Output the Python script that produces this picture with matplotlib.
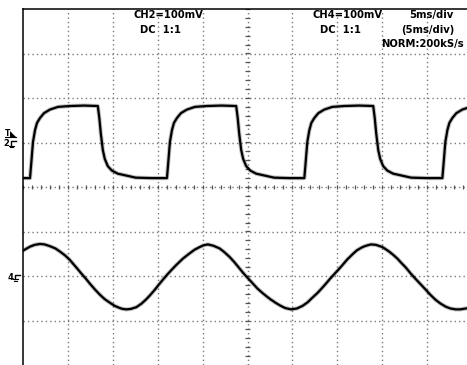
import matplotlib

matplotlib.use("Agg")
import matplotlib.pyplot as plt
import numpy as np
from matplotlib.lines import Line2D
from matplotlib.patches import Polygon
from matplotlib.transforms import Affine2D

W, H = 467, 365

# scope settings
MS_PER_DIV = 5
MV_PER_DIV = 100
CH2_GROUND = 1.0   # divisions above centre
CH4_GROUND = -2.0

# CH2: filtered square wave (ms, mV)
ch2_t = [0.0, 0.78, 0.95, 1.11, 1.34, 1.56, 1.89, 2.34, 3.00, 3.89, 5.22, 6.8, 8.33,
         8.50, 8.66, 8.89, 9.11, 9.44, 9.89, 10.55, 11.44, 12.55, 14.3, 16.03,
         16.20, 16.36, 16.59, 16.81, 17.14, 17.59, 18.25, 19.14, 20.47, 22.1, 23.74,
         23.91, 24.07, 24.30, 24.52, 24.85, 25.30, 25.96, 26.85, 27.96, 29.6, 31.33,
         31.50, 31.66, 31.89, 32.11, 32.44, 32.89, 33.55, 34.44, 35.77, 37.4, 39.00,
         39.17, 39.33, 39.56, 39.78, 40.11, 40.56, 41.22, 42.11, 43.22, 45.0, 46.70,
         46.87, 47.03, 47.26, 47.48, 47.81, 48.26, 48.92, 49.81, 50.0]
ch2_mv = [-80, -80, -39, 1, 28, 44, 55, 66, 74, 80, 82, 83, 82,
          55, 21, -17, -37, -53, -63, -70, -74, -79, -80, -80,
          -39, 1, 28, 44, 55, 66, 74, 80, 82, 83, 82,
          55, 21, -17, -37, -53, -63, -70, -74, -79, -80, -80,
          -39, 1, 28, 44, 55, 66, 74, 80, 82, 83, 82,
          55, 21, -17, -37, -53, -63, -70, -74, -79, -80, -80,
          -39, 1, 28, 44, 55, 66, 74, 80, 81]

# CH4: sine-like wave (ms, mV)
ch4_t = [0.0, 0.78, 1.3, 1.89, 2.4, 3.0, 3.6, 4.11, 4.7, 5.22, 5.9, 6.52, 7.0,
         7.44, 8.0, 8.56, 9.1, 9.67, 10.2, 10.78, 11.1, 11.52, 12.0, 12.63, 13.2,
         13.74, 14.2, 14.67, 15.1, 15.59, 16.1, 16.6, 17.08, 17.8, 18.56, 19.1,
         19.67, 20.1, 20.59, 21.2, 21.89, 22.4, 23.0, 23.5, 24.11, 24.6, 25.1,
         25.6, 26.1, 26.6, 27.08, 27.6, 28.19, 28.7, 29.2, 29.86, 30.5, 31.14,
         31.7, 32.26, 32.8, 33.3, 33.74, 34.2, 34.7, 35.2, 35.59, 36.1, 36.7,
         37.2, 37.81, 38.2, 38.74, 39.3, 40.03, 40.7, 41.2, 41.7, 42.1, 42.63,
         43.2, 43.74, 44.3, 44.86, 45.4, 45.97, 46.5, 47.08, 47.6, 48.19, 48.7,
         49.3, 50.0]
ch4_mv = [57, 66, 70, 72, 71, 67, 62, 55, 46, 36, 20, 5, -6,
          -17, -30, -42, -52, -60, -67, -72, -74, -75, -74, -70, -62,
          -52, -42, -31, -20, -8, 4, 15, 25, 39, 51, 59,
          65, 69, 71, 68, 62, 54, 43, 32, 17, 5, -6,
          -17, -28, -37, -45, -53, -61, -67, -72, -75, -73, -67,
          -59, -48, -38, -27, -17, -6, 5, 16, 25, 37, 49,
          58, 65, 68, 71, 70, 65, 56, 48, 39, 30, 19,
          5, -7, -19, -31, -43, -54, -62, -69, -73, -75, -75,
          -73, -71]

header = [
    ("CH2=100mV", 168.5, 15),
    ("DC  1:1", 160, 30),
    ("CH4=100mV", 347.5, 15),
    ("DC  1:1", 340, 30),
    ("5ms/div", 431.5, 15),
    ("(5ms/div)", 428, 30),
    ("NORM:200kS/s", 422.5, 44),
]

GRID = "#7a7a7a"
DOTS = (0, (1, 2.2))

fig = plt.figure(figsize=(W / 100, H / 100), dpi=100)
ax = fig.add_axes([23 / W, 0, 449 / W, 356 / H])
ax.set_xlim(0, 10 * MS_PER_DIV)
ax.set_ylim(-4, 4)
ax.set_xticks([])
ax.set_yticks([])
for side in ("right", "bottom"):
    ax.spines[side].set_visible(False)
for side in ("left", "top"):
    ax.spines[side].set_linewidth(1.1)
    ax.spines[side].set_color("black")

# graticule
xs = [k * MS_PER_DIV for k in range(1, 10) if k != 5]
ys = [k for k in range(-3, 4) if k != 0]
ax.vlines(xs, -4, 4, colors=GRID, linestyles=DOTS, lw=1.0)
ax.hlines(ys, 0, 50, colors=GRID, linestyles=DOTS, lw=1.0)
ax.axhline(0, color=GRID, ls=DOTS, lw=1.0)
ax.axvline(5 * MS_PER_DIV, color=GRID, ls=DOTS, lw=1.0)
ax.vlines(np.arange(0, 50.01, MS_PER_DIV / 5), -0.045, 0.045, colors="#555555", lw=0.9)
ax.hlines(np.arange(-4, 4.01, 0.2), 25 - 0.28, 25 + 0.28, colors="#555555", lw=0.9)

# traces
for t, mv, gnd in ((ch2_t, ch2_mv, CH2_GROUND), (ch4_t, ch4_mv, CH4_GROUND)):
    y = gnd + np.asarray(mv) / MV_PER_DIV
    ax.plot(t, y, color="black", lw=3.0, alpha=0.25, solid_joinstyle="round")
    ax.plot(t, y, color="black", lw=1.6, solid_joinstyle="round")

# header text
for label, x, y in header:
    fig.text(x / W, 1 - y / H, label, ha="center", va="center",
             fontsize=7.2, fontweight="bold", family="DejaVu Sans")


# channel markers, drawn in pixels next to the left edge
def pixel_frame(level):
    bx, by = ax.transData.transform((0, level))
    return Affine2D().scale(1, -1).translate(bx, by)


def seg(tr, pts, lw=1.0):
    xs_, ys_ = zip(*pts)
    fig.add_artist(Line2D(xs_, ys_, transform=tr, color="black", lw=lw))


def ground_mark(level, num, dx):
    tr = pixel_frame(level)
    seg(tr, [(dx + 7, -1.5), (dx + 2, -1.5), (dx + 2, 3)])
    seg(tr, [(dx - 0.5, 3.3), (dx + 4.5, 3.3)], lw=0.8)
    seg(tr, [(dx + 0.5, 4.8), (dx + 3.5, 4.8)], lw=0.8)
    bx, by = ax.transData.transform((0, level))
    fig.text((bx + dx - 3) / W, (by - 1) / H, num, fontsize=6, fontweight="bold",
             ha="center", va="center")


ground_mark(CH2_GROUND, "2", -14)
ground_mark(CH4_GROUND, "4", -10)

# trigger level marker
tr = pixel_frame(CH2_GROUND)
fig.add_artist(Polygon([(-13, -11.5), (-13, -6), (-7, -6)], closed=True,
                       transform=tr, color="black", lw=0))
seg(tr, [(-18, -5.3), (-7, -5.3)], lw=0.8)
bx, by = ax.transData.transform((0, CH2_GROUND))
fig.text((bx - 15.5) / W, (by + 9) / H, "T", fontsize=5.5, fontweight="bold",
         ha="center", va="center")

fig.savefig("out.png", dpi=100, facecolor="white")
